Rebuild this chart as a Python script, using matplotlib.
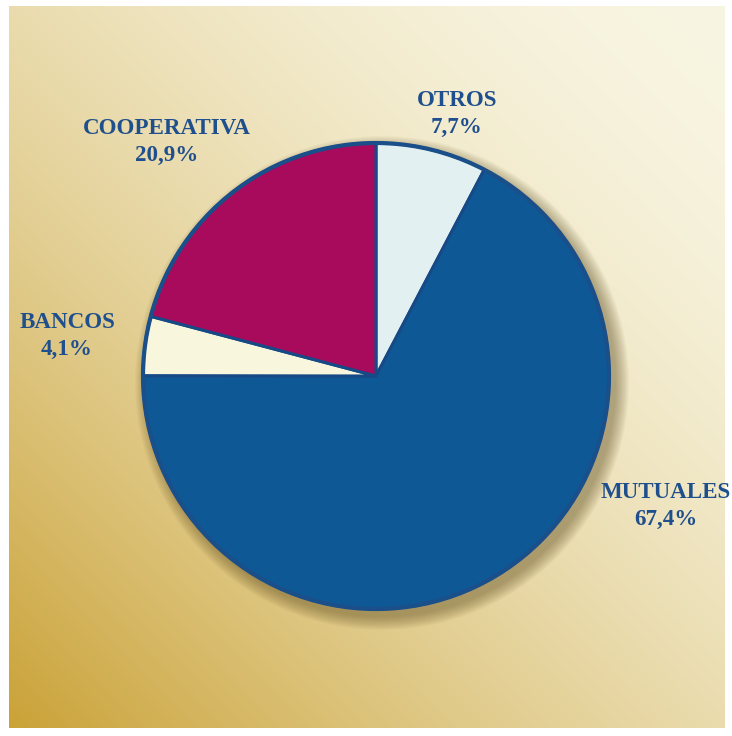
import numpy as np
import matplotlib
matplotlib.use("Agg")
import matplotlib.pyplot as plt
from matplotlib.patches import Circle

# datos
sectores = ["OTROS", "MUTUALES", "BANCOS", "COOPERATIVA"]
porcentajes = [7.7, 67.4, 4.1, 20.9]
etiquetas = ["7,7%", "67,4%", "4,1%", "20,9%"]
colores = ["#e2f0f2", "#0f5896", "#f8f6dc", "#a80a5c"]

W, H = 732, 736
fig = plt.figure(figsize=(W / 100, H / 100), dpi=100)
fig.patch.set_facecolor("white")

# fondo degradado
bg = fig.add_axes([9 / W, 8 / H, (725 - 9) / W, (729 - 7) / H])
u = np.linspace(0, 1, 300)[None, :]
v = np.linspace(0, 1, 300)[:, None]
d = np.clip(((1 - u) + v) / 2, 0, 1) ** 1.7
light = np.array([248, 245, 226]) / 255
dark = np.array([202, 162, 55]) / 255
img = light[None, None, :] + d[:, :, None] * (dark - light)[None, None, :]
bg.imshow(img, aspect="auto", extent=[0, 1, 1, 0])
bg.axis("off")

ax = fig.add_axes([0, 0, 1, 1])
ax.patch.set_alpha(0)

cx, cy, r = 376, H - 376, 233

# sombra
for i in range(14):
    ax.add_patch(Circle((cx + 6, cy - 7), r + 14 - i, color=(0.35, 0.28, 0.1),
                        alpha=0.035, lw=0, zorder=1))

wedges, _ = ax.pie(porcentajes, colors=colores, startangle=90, counterclock=False,
                   center=(cx, cy), radius=r, frame=True,
                   wedgeprops=dict(edgecolor="#164a86", linewidth=2.2))
for w in wedges:
    w.set_zorder(2)
ax.set_xlim(0, W)
ax.set_ylim(0, H)
ax.set_aspect("equal")
ax.axis("off")

# borde exterior
ax.add_patch(Circle((cx, cy), r, fill=False, edgecolor="#1a4f8a", lw=3, zorder=3))

pos = {"OTROS": (457, 100), "MUTUALES": (666, 492), "BANCOS": (67, 322),
       "COOPERATIVA": (167, 128)}
for s, e in zip(sectores, etiquetas):
    x, y = pos[s]
    ax.text(x, H - y, s, ha="center", va="center", fontsize=16.6, fontweight="bold",
            family="Liberation Serif", color="#1f4f8c", zorder=5)
    ax.text(x, H - y - 27, e, ha="center", va="center", fontsize=16.6, fontweight="bold",
            family="Liberation Serif", color="#1f4f8c", zorder=5)

fig.savefig("out.png", dpi=100)
